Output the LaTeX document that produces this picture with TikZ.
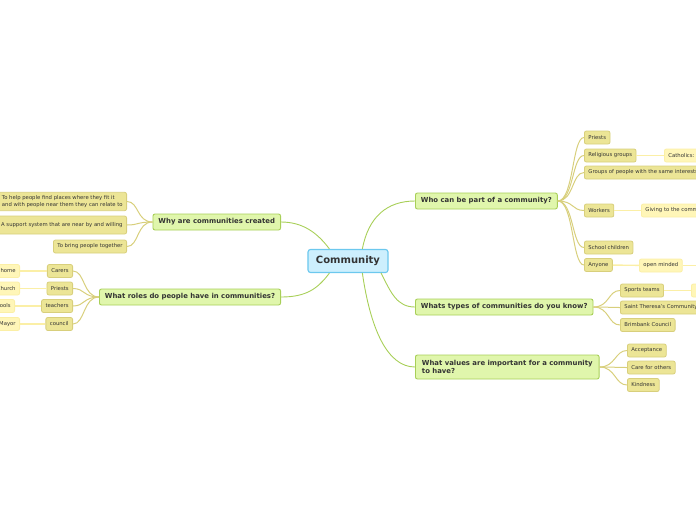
\documentclass[tikz,border=0pt]{standalone}
\usepackage{fontspec}
\setmainfont{DejaVu Sans}
\usetikzlibrary{positioning}

\definecolor{rootfill}{HTML}{CDEFFD}
\definecolor{rootdraw}{HTML}{6CC8EE}
\definecolor{branchfill}{HTML}{E0F6AC}
\definecolor{branchdraw}{HTML}{A8CF58}
\definecolor{leaffill}{HTML}{ECE596}
\definecolor{leafdraw}{HTML}{D8CF7C}
\definecolor{subfill}{HTML}{FFF6B8}
\definecolor{subdraw}{HTML}{FBEFA6}
\definecolor{inktext}{HTML}{333333}

\begin{document}
\begin{tikzpicture}[
    x=1pt, y=-1pt,
    every node/.style={text=inktext},
    root/.style={rectangle, draw=rootdraw, fill=rootfill, line width=1.1pt, rounded corners=2.5pt, minimum height=23pt, inner xsep=8pt, font=\fontsize{10}{12}\selectfont\bfseries},
    branch/.style={rectangle, draw=branchdraw, fill=branchfill, line width=0.9pt, rounded corners=2pt, minimum height=16pt, inner xsep=5.5pt, font=\fontsize{6.9}{8.5}\selectfont\bfseries},
    leaf/.style={rectangle, draw=leafdraw, fill=leaffill, line width=0.8pt, rounded corners=2pt, minimum height=13pt, inner xsep=4pt, font=\fontsize{5.3}{6.6}\selectfont},
    subleaf/.style={rectangle, draw=subdraw, fill=subfill, line width=0.8pt, rounded corners=2pt, minimum height=13pt, inner xsep=4pt, font=\fontsize{5.3}{6.6}\selectfont},
    mainlink/.style={draw=branchdraw, line width=0.9pt},
    leaflink/.style={draw=leafdraw, line width=1pt},
    sublink/.style={draw=subdraw, line width=1.4pt}
]
\clip (0,0) rectangle (696,520);
\useasboundingbox (0,0) rectangle (696,520);

% centre and main branches
\node[root] (ctr) at (348,261) {Community};
\node[branch, anchor=west] (who) at (415,201) {Who can be part of a community?};
\node[branch, anchor=west] (kinds) at (415,307) {Whats types of communities do you know?};
\node[branch, anchor=west, align=left, minimum height=24pt, inner xsep=6.5pt] (vals) at (415,367) {What values are important for a community\\to have?};
\node[branch, anchor=east] (why) at (281,222) {Why are communities created};
\node[branch, anchor=east] (roles) at (281,297) {What roles do people have in communities?};

% who can be part
\node[leaf, anchor=west] (w1) at (584,137.5) {Priests};
\node[leaf, anchor=west] (w2) at (584,155.5) {Religious groups};
\node[leaf, anchor=west] (w3) at (584,172.5) {Groups of people with the same interests};
\node[leaf, anchor=west] (w4) at (584,210.5) {Workers};
\node[leaf, anchor=west] (w5) at (584,247.5) {School children};
\node[leaf, anchor=west] (w6) at (584,265) {Anyone};
\node[subleaf, anchor=west] (w2a) at (664,155.5) {Catholics: };
\node[subleaf, anchor=west] (w4a) at (641,210.5) {Giving to the community};
\node[subleaf, anchor=west] (w6a) at (639,265.5) {open minded};
\coordinate (w6b) at (720,265.5);

% kinds of communities
\node[leaf, anchor=west] (k1) at (620,290.5) {Sports teams};
\node[leaf, anchor=west] (k2) at (620,307.5) {Saint Theresa's Community};
\node[leaf, anchor=west] (k3) at (620,325) {Brimbank Council};
\node[subleaf, anchor=west, minimum width=30pt] (k1a) at (691,290.5) {};

% values
\node[leaf, anchor=west] (v1) at (627,350.5) {Acceptance};
\node[leaf, anchor=west] (v2) at (627,367.5) {Care for others};
\node[leaf, anchor=west] (v3) at (627,385) {Kindness};

% why created
\node[leaf, anchor=east, align=left] (y1) at (127,201.5) {To help people find places where they fit it\\and with people near them they can relate to};
\node[leaf, anchor=east, minimum height=18pt] (y2) at (127,225) {A support system that are near by and willing};
\node[leaf, anchor=east] (y3) at (127,246.5) {To bring people together};

% roles
\node[leaf, anchor=east] (r1) at (73,271) {Carers};
\node[leaf, anchor=east] (r2) at (73,288.5) {Priests};
\node[leaf, anchor=east] (r3) at (73,306) {teachers};
\node[leaf, anchor=east] (r4) at (73,324) {council};
\node[subleaf, anchor=east] (r1a) at (20,271) {home};
\node[subleaf, anchor=east] (r2a) at (20,288.5) {Church};
\node[subleaf, anchor=east] (r3a) at (15,306) {Schools};
\node[subleaf, anchor=east] (r4a) at (20,324) {Mayor};

% links from the centre
\draw[mainlink] (ctr.40) .. controls +(6,-32) and +(-28,0) .. (who.west);
\draw[mainlink] (ctr.-20) .. controls +(10,20) and +(-18,0) .. (kinds.west);
\draw[mainlink] (ctr.-40) .. controls +(8,55) and +(-28,0) .. (vals.west);
\draw[mainlink] (ctr.147) .. controls +(-12,-16) and +(22,0) .. (why.east);
\draw[mainlink] (ctr.-147) .. controls +(-12,16) and +(25,0) .. (roles.east);

% links to the leaves
\foreach \c in {w1,w2,w3,w4,w5,w6}
  \draw[leaflink] (who.east) .. controls +(16,0) and +(-12,0) .. (\c.west);
\foreach \c in {k1,k2,k3}
  \draw[leaflink] (kinds.east) .. controls +(16,0) and +(-12,0) .. (\c.west);
\foreach \c in {v1,v2,v3}
  \draw[leaflink] (vals.east) .. controls +(16,0) and +(-12,0) .. (\c.west);
\foreach \c in {y1,y2,y3}
  \draw[leaflink] (why.west) .. controls +(-16,0) and +(12,0) .. (\c.east);
\foreach \c in {r1,r2,r3,r4}
  \draw[leaflink] (roles.west) .. controls +(-16,0) and +(12,0) .. (\c.east);

% links to the outer leaves
\draw[sublink] (w2) -- (w2a);
\draw[sublink] (w4) -- (w4a);
\draw[sublink] (w6) -- (w6a);
\draw[sublink] (w6a) -- (w6b);
\draw[sublink] (k1) -- (k1a);
\draw[sublink] (r1) -- (r1a);
\draw[sublink] (r2) -- (r2a);
\draw[sublink] (r3) -- (r3a);
\draw[sublink] (r4) -- (r4a);
\end{tikzpicture}
\end{document}
